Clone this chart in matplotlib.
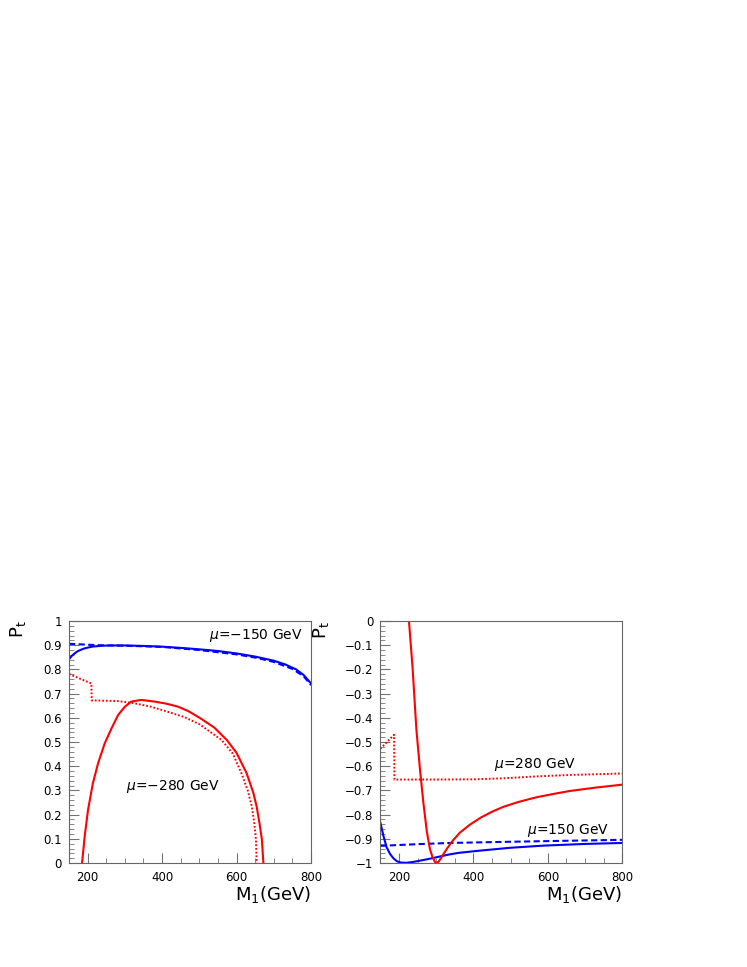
import numpy as np
import matplotlib
matplotlib.use("Agg")
import matplotlib.pyplot as plt
from matplotlib.ticker import MultipleLocator, FuncFormatter

plt.rcParams['font.family'] = ['DejaVu Sans']
plt.rcParams['mathtext.fontset'] = 'dejavusans'

#--------------- left panel: mu < 0 ---------------
blue_solid_L_x = [150, 158, 165, 172, 180, 190, 200, 212, 225, 240, 260, 300, 350, 400, 450, 500, 550, 600, 650, 700, 730, 760, 780, 800]
blue_solid_L_y = [0.842, 0.857, 0.866, 0.874, 0.880, 0.886, 0.890, 0.894, 0.896, 0.898, 0.899, 0.899, 0.897, 0.894, 0.889, 0.883, 0.876, 0.866, 0.853, 0.836, 0.821, 0.800, 0.777, 0.742]

blue_dash_L_x = [150, 200, 250, 300, 400, 500, 600, 650, 700, 750, 780, 800]
blue_dash_L_y = [0.906, 0.902, 0.899, 0.898, 0.893, 0.880, 0.862, 0.849, 0.831, 0.802, 0.772, 0.735]

red_solid_L_x = [185, 192, 201, 214, 228, 246, 264, 282, 300, 317, 344, 380, 410, 443, 470, 501, 540, 574, 600, 627, 645, 654, 662, 668, 672]
red_solid_L_y = [0.0, 0.109, 0.219, 0.329, 0.412, 0.495, 0.556, 0.612, 0.646, 0.667, 0.674, 0.667, 0.659, 0.646, 0.628, 0.600, 0.560, 0.508, 0.455, 0.371, 0.290, 0.233, 0.160, 0.097, 0.0]

red_dot_L_x = [150, 210, 211, 282, 326, 370, 411, 460, 501, 560, 590, 613, 630, 641, 648, 652, 654]
red_dot_L_y = [0.781, 0.742, 0.672, 0.669, 0.660, 0.646, 0.627, 0.603, 0.573, 0.508, 0.452, 0.371, 0.300, 0.233, 0.160, 0.097, 0.0]

#--------------- right panel: mu > 0 ---------------
blue_solid_R_x = [150, 158, 167, 176, 185, 195, 205, 220, 240, 257, 280, 301, 337, 360, 409, 450, 498, 588, 700, 800]
blue_solid_R_y = [-0.832, -0.885, -0.935, -0.962, -0.980, -0.993, -0.998, -0.999, -0.995, -0.990, -0.983, -0.976, -0.964, -0.958, -0.950, -0.944, -0.937, -0.928, -0.921, -0.917]

blue_dash_R_x = [150, 250, 337, 500, 650, 800]
blue_dash_R_y = [-0.929, -0.922, -0.917, -0.912, -0.908, -0.904]

red_solid_R_x = [227, 237, 247, 257, 266, 275, 283, 290, 297, 301, 306, 312, 320, 328, 337, 346, 364, 391, 420, 450, 480, 520, 570, 620, 660, 730, 800]
red_solid_R_y = [0.0, -0.20, -0.45, -0.62, -0.755, -0.87, -0.94, -0.975, -0.996, -1.0, -0.995, -0.982, -0.962, -0.943, -0.923, -0.905, -0.874, -0.841, -0.812, -0.788, -0.768, -0.748, -0.728, -0.713, -0.702, -0.688, -0.676]

red_dot_R_x = [150, 187, 188, 300, 400, 480, 570, 660, 800]
red_dot_R_y = [-0.528, -0.470, -0.655, -0.655, -0.654, -0.650, -0.642, -0.636, -0.630]

labels_L = [r'$\mu$=$-$150 GeV', r'$\mu$=$-$280 GeV']
labels_R = [r'$\mu$=280 GeV', r'$\mu$=150 GeV']

BLUE = '#0000ff'
RED = '#ff0000'


def style_axes(ax, ylo, yhi):
    ax.set_xlim(150, 800)
    ax.set_ylim(ylo, yhi)
    ax.xaxis.set_major_locator(MultipleLocator(200))
    ax.xaxis.set_minor_locator(MultipleLocator(50))
    ax.yaxis.set_major_locator(MultipleLocator(0.1))
    ax.yaxis.set_minor_locator(MultipleLocator(0.02))
    ax.yaxis.set_major_formatter(FuncFormatter(lambda v, p: ('%g' % round(v, 2)).replace('-', '\u2212')))
    ax.tick_params(which='both', direction='in', top=False, right=False, color='0.45', labelsize=8.5)
    ax.tick_params(which='major', length=7, width=0.8)
    ax.tick_params(which='minor', length=3.5, width=0.6)
    ax.tick_params(axis='x', pad=6)
    ax.tick_params(axis='y', pad=5)
    for s in ax.spines.values():
        s.set_color('0.4')
        s.set_linewidth(0.8)
    ax.text(1.0, -0.132, r'$\mathregular{M_1}$(GeV)', transform=ax.transAxes,
            ha='right', va='center', fontsize=13)


fig = plt.figure(figsize=(7.47, 9.67), dpi=100)
axL = fig.add_axes([0.0924, 0.1075, 0.3240, 0.2503])
axR = fig.add_axes([0.5091, 0.1075, 0.3240, 0.2503])

dash = (0, (3, 1.6))
dots = (0, (0.9, 1.0))

axL.plot(blue_dash_L_x, blue_dash_L_y, color=BLUE, lw=1.5, ls=dash)
axL.plot(blue_solid_L_x, blue_solid_L_y, color=BLUE, lw=1.5)
axL.plot(red_dot_L_x, red_dot_L_y, color=RED, lw=1.4, ls=dots)
axL.plot(red_solid_L_x, red_solid_L_y, color=RED, lw=1.5)
style_axes(axL, 0, 1)
axL.text(651, 0.942, labels_L[0], ha='center', va='center', fontsize=10)
axL.text(429, 0.315, labels_L[1], ha='center', va='center', fontsize=10)
axL.text(-0.211, 1.004, r'$\mathregular{P_t}$', transform=axL.transAxes, rotation=90,
         ha='center', va='top', fontsize=13)

axR.plot(blue_dash_R_x, blue_dash_R_y, color=BLUE, lw=1.5, ls=dash)
axR.plot(blue_solid_R_x, blue_solid_R_y, color=BLUE, lw=1.5)
axR.plot(red_dot_R_x, red_dot_R_y, color=RED, lw=1.4, ls=dots)
axR.plot(red_solid_R_x, red_solid_R_y, color=RED, lw=1.5)
style_axes(axR, -1, 0)
axR.text(567, -0.592, labels_R[0], ha='center', va='center', fontsize=10)
axR.text(655, -0.864, labels_R[1], ha='center', va='center', fontsize=10)
axR.text(-0.245, 1.0, r'$\mathregular{P_t}$', transform=axR.transAxes, rotation=90,
         ha='center', va='top', fontsize=13)

fig.savefig('out.png', dpi=100)
